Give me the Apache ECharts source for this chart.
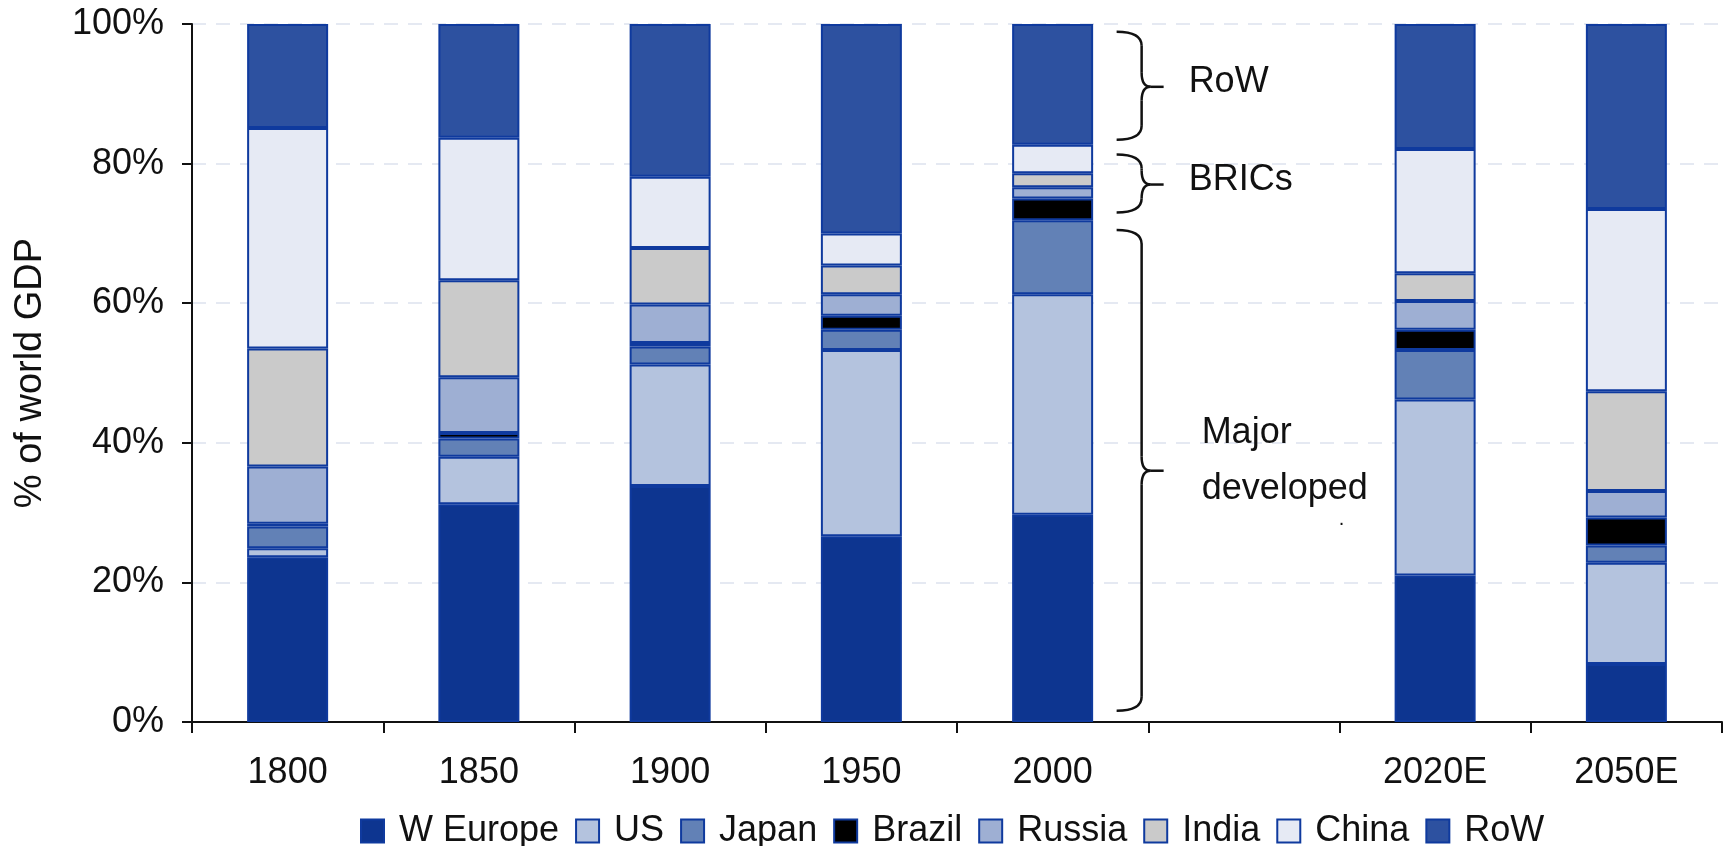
<!DOCTYPE html>
<html>
<head>
<meta charset="utf-8">
<script src="https://cdn.jsdelivr.net/npm/echarts@6/dist/echarts.min.js"></script>
<style>
  html, body { margin: 0; padding: 0; background: #fff; }
  #main { width: 1736px; height: 846px; }
</style>
</head>
<body>
<div id="main"></div>
<script>
// share of world GDP, %
var categories = ['1800', '1850', '1900', '1950', '2000', '', '2020E', '2050E'];
var wEurope = [23.6, 31.2, 33.8, 26.6, 29.7, null, 21.0, 8.3];
var us      = [1.3, 6.8, 17.4, 26.7, 31.6, null, 25.2, 14.5];
var japan   = [3.1, 2.6, 2.6, 2.9, 10.6, null, 7.1, 2.5];
var brazil  = [0.4, 0.8, 0.5, 2.0, 3.1, null, 2.9, 4.0];
var russia  = [8.2, 8.0, 5.5, 3.1, 1.6, null, 4.1, 3.8];
var india   = [16.9, 13.9, 8.1, 4.1, 2.0, null, 4.0, 14.3];
var china   = [31.6, 20.4, 10.2, 4.6, 4.1, null, 17.8, 26.1];
var rowRest = [14.9, 16.3, 21.9, 30.0, 17.3, null, 17.9, 26.5];
var yTicks = [0, 20, 40, 60, 80, 100];

// brace annotations: [top, tip, bottom] in % of world GDP
var braceRoW = [98.9, 91.0, 83.4];
var braceBRICs = [81.3, 77.0, 73.0];
var braceMajor = [70.5, 36.0, 1.6];

var font = "'Liberation Sans', Arial, sans-serif";
var edge = '#0f3a9e';

var names = ['W Europe', 'US', 'Japan', 'Brazil', 'Russia', 'India', 'China', 'RoW'];
var colors = ['#0d3590', '#b4c3de', '#6281b6', '#000000', '#9eafd3', '#cacaca', '#e6eaf4', '#2d51a0'];
var values = [wEurope, us, japan, brazil, russia, india, china, rowRest];

var series = names.map(function (n, i) {
  return {
    name: n,
    type: 'bar',
    stack: 'gdp',
    barWidth: 81,
    data: values[i],
    itemStyle: { color: colors[i], borderColor: edge, borderWidth: 2 },
    emphasis: { disabled: true }
  };
});

var myChart = echarts.init(document.getElementById('main'));
var option = {
  animation: false,
  grid: { left: 192, right: 14, top: 24, bottom: 124 },
  legend: {
    data: names,
    icon: 'rect',
    left: 355,
    top: 808,
    itemWidth: 23,
    itemHeight: 23,
    itemGap: 16,
    textStyle: { fontFamily: font, fontSize: 36, color: '#111', padding: [0, 0, 0, 10] }
  },
  xAxis: {
    type: 'category',
    data: categories,
    axisLine: { lineStyle: { color: '#111', width: 2 } },
    axisTick: { show: true, length: 11, interval: 0, lineStyle: { color: '#111', width: 2 } },
    axisLabel: { margin: 33, interval: 0, fontFamily: font, fontSize: 36, color: '#111' }
  },
  yAxis: {
    type: 'value',
    min: yTicks[0],
    max: yTicks[yTicks.length - 1],
    interval: 20,
    name: '% of world GDP',
    nameLocation: 'middle',
    nameGap: 142,
    nameTextStyle: { fontFamily: font, fontSize: 38, color: '#111' },
    axisLine: { show: true, lineStyle: { color: '#111', width: 2 } },
    axisTick: { show: true, length: 10, lineStyle: { color: '#111', width: 2 } },
    axisLabel: { margin: 28, fontFamily: font, fontSize: 36, color: '#111', formatter: '{value}%' },
    splitLine: { show: true, lineStyle: { color: '#dde2ee', type: [14, 10], width: 1.5 } }
  },
  series: series
};
myChart.setOption(option);

// braces and their labels, placed through the axis scales
var stroke = { fill: null, stroke: '#111', lineWidth: 2.5 };
function brace(x0, x1, x2, yTop, yTip, yBot) {
  var r = 14;
  function curve(ax, ay, bx, by, cx, cy) {
    return { type: 'bezierCurve', shape: { x1: ax, y1: ay, x2: bx, y2: by, cpx1: cx, cpy1: cy }, style: stroke };
  }
  function line(ax, ay, bx, by) {
    return { type: 'line', shape: { x1: ax, y1: ay, x2: bx, y2: by }, style: stroke };
  }
  return [
    curve(x0, yTop, x1, yTop + r, x1, yTop),
    line(x1, yTop + r, x1, yTip - r),
    curve(x1, yTip - r, x1 + 9, yTip, x1, yTip),
    line(x1 + 9, yTip, x2, yTip),
    curve(x1 + 9, yTip, x1, yTip + r, x1, yTip),
    line(x1, yTip + r, x1, yBot - r),
    curve(x1, yBot - r, x0, yBot, x1, yBot)
  ];
}
var xc = myChart.convertToPixel({ xAxisIndex: 0 }, '2000');
function py(v) { return myChart.convertToPixel({ yAxisIndex: 0 }, v); }
var x0 = xc + 64, x1 = xc + 89, x2 = xc + 111;
var graphics = [];
[braceRoW, braceBRICs, braceMajor].forEach(function (b) {
  graphics = graphics.concat(brace(x0, x1, x2, py(b[0]), py(b[1]), py(b[2])));
});
function label(text, dx, v, size) {
  return {
    type: 'text', x: xc + dx, y: py(v),
    style: { text: text, fontFamily: font, fontSize: size || 36, fill: '#111', align: 'left', verticalAlign: 'middle' }
  };
}
graphics.push(label('RoW', 136, 91.7));
graphics.push(label('BRICs', 136, 77.6));
graphics.push(label('Major', 149, 41.4));
graphics.push(label('developed', 149, 33.3));
graphics.push(label('.', 286, 29.0, 20));
myChart.setOption({ graphic: graphics });
</script>
</body>
</html>
